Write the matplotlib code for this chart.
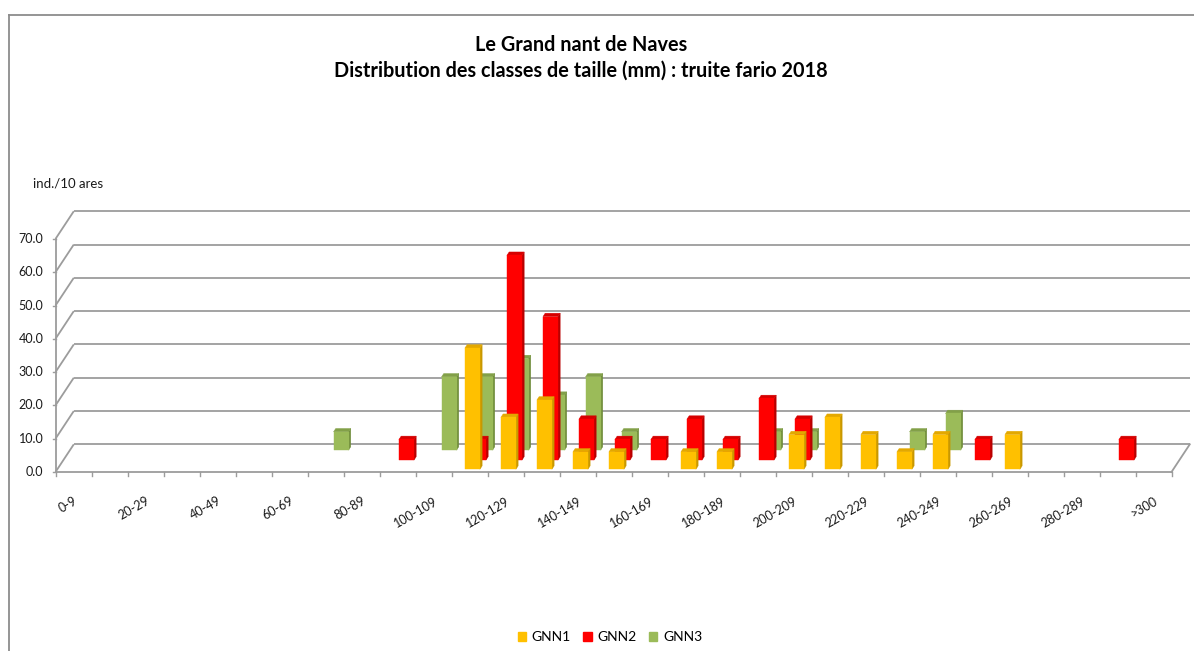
# Distribution des classes de taille - truite fario 2018 (pseudo 3D Excel)

import matplotlib
matplotlib.use("Agg")
import matplotlib.pyplot as plt
from matplotlib.patches import Polygon, Patch
from matplotlib.lines import Line2D

plt.rcParams["font.family"] = ["Lato", "DejaVu Sans"]

# Classes de taille (mm)
classes = ["%d-%d" % (10 * i, 10 * i + 9) for i in range(30)] + [">300"]

# ind./10 ares
gnn1 = [0, 0, 0, 0, 0, 0, 0, 0, 0, 0, 0, 36.4, 15.6, 20.8, 5.2, 5.2,
        0, 5.2, 5.2, 0, 10.4, 15.6, 10.4, 5.2, 10.4, 0, 10.4, 0, 0, 0, 0]
gnn2 = [0, 0, 0, 0, 0, 0, 0, 0, 0, 6.2, 0, 6.2, 61.5, 43.1, 12.3, 6.2,
        6.2, 12.3, 6.2, 18.5, 12.3, 0, 0, 0, 0, 6.2, 0, 0, 0, 6.2, 0]
gnn3 = [0, 0, 0, 0, 0, 0, 0, 5.5, 0, 0, 22.0, 22.0, 27.5, 16.5, 22.0, 5.5,
        0, 0, 0, 5.5, 5.5, 0, 0, 5.5, 11.0, 0, 0, 0, 0, 0, 0]
series = ["GNN1", "GNN2", "GNN3"]
yticks = [0, 10, 20, 30, 40, 50, 60, 70]

# Couleurs (face, dessus, cote)
cols = {
    "GNN1": ("#FFC000", "#E3A800", "#C99800"),
    "GNN2": ("#FF0000", "#D60000", "#B80000"),
    "GNN3": ("#9BBB59", "#82A048", "#6F8C3A"),
}

W, H, DPI = 1194, 651, 100
PX_CAT = 36.0      # pixels par classe
PX_VAL = 3.33      # pixels par unite
X0, Y0 = 55.5, 651 - 472   # origine (coin avant gauche)
DX = 18.3 / PX_CAT  # profondeur
DY = 27.7 / PX_VAL
NC = len(classes)
GRID = "#9c9c9c"
TXT = "#1a1a1a"

fig = plt.figure(figsize=(W / DPI, H / DPI), dpi=DPI)
ax = fig.add_axes([0, 0, 1, 1])
ax.set_xlim(-X0 / PX_CAT, (W - X0) / PX_CAT)
ax.set_ylim(-Y0 / PX_VAL, (H - Y0) / PX_VAL)
ax.axis("off")


def P(x, v, z):
    return (x + z * DX, v + z * DY)


# murs + grille
for v in yticks:
    bx, by = P(0, v, 1)
    ax.plot([0, bx], [v, by], color=GRID, lw=1.3, zorder=1, solid_capstyle="butt")
    ax.plot([bx, NC + DX], [by, by], color=GRID, lw=1.3, zorder=1, solid_capstyle="butt")
    ax.plot([-3 / PX_CAT, 0], [v, v], color=GRID, lw=1.0, zorder=1)
    ax.annotate("%.1f" % v, (0, v), xytext=(-12, 0), textcoords="offset pixels",
                ha="right", va="center", fontsize=9, color=TXT)
ax.plot([0, 0], [0, 70], color=GRID, lw=1.3, zorder=1)
ax.plot([0, NC], [0, 0], color=GRID, lw=1.3, zorder=1)
ax.plot([NC, NC + DX], [0, DY], color=GRID, lw=1.3, zorder=1)
for i in range(NC + 1):
    ax.plot([i, i], [0, -4 / PX_VAL], color=GRID, lw=1.0, zorder=1)
for i in range(0, NC, 2):
    ax.annotate(classes[i], (i + 0.5, 0), xytext=(3, -28), textcoords="offset pixels",
                ha="right", va="center", rotation=30, rotation_mode="anchor",
                fontsize=9, color=TXT)

# barres (arriere vers avant)
depth = {"GNN1": 0.10, "GNN2": 0.43, "GNN3": 0.79}
data = {"GNN1": gnn1, "GNN2": gnn2, "GNN3": gnn3}
w = 15 / PX_CAT
dz = 0.12
for k, name in enumerate(["GNN3", "GNN2", "GNN1"]):
    face, top, side = cols[name]
    z0 = depth[name]
    for c, v in enumerate(data[name]):
        if v <= 0:
            continue
        xa = c + 0.5 - w / 2 + dz / 2 * DX
        xb = xa + w
        fr = [P(xa, 0, z0), P(xb, 0, z0), P(xb, v, z0), P(xa, v, z0)]
        tp = [P(xa, v, z0), P(xb, v, z0), P(xb, v, z0 + dz), P(xa, v, z0 + dz)]
        sd = [P(xb, 0, z0), P(xb, 0, z0 + dz), P(xb, v, z0 + dz), P(xb, v, z0)]
        zo = 3 + k
        ax.add_patch(Polygon(sd, closed=True, fc=side, ec=side, lw=0.3, zorder=zo))
        ax.add_patch(Polygon(tp, closed=True, fc=top, ec=top, lw=0.3, zorder=zo))
        ax.add_patch(Polygon(fr, closed=True, fc=face, ec=face, lw=0.3, zorder=zo))

# textes
fig.text(581 / W, 1 - 45 / H, "Le Grand nant de Naves", ha="center", va="center",
         fontsize=14.3, fontweight="bold")
fig.text(581 / W, 1 - 71 / H, "Distribution des classes de taille (mm) : truite fario 2018",
         ha="center", va="center", fontsize=14.3, fontweight="bold")
fig.text(33 / W, 1 - 183 / H, "ind./10 ares", ha="left", va="center", fontsize=9.5,
         color=TXT)

handles = [Patch(color=cols[s][0], label=s) for s in series]
fig.legend(handles=handles, loc="center", bbox_to_anchor=(610 / W, 1 - 637 / H),
           ncol=3, frameon=False, fontsize=10, handlelength=0.6, handleheight=0.6,
           handletextpad=0.4, columnspacing=0.9)

# cadre
fig.add_artist(Line2D([9 / W, 9 / W], [0, 1 - 15 / H], color="#8c8c8c", lw=1.3))
fig.add_artist(Line2D([9 / W, 1], [1 - 15 / H, 1 - 15 / H], color="#8c8c8c", lw=1.3))

fig.savefig("out.png", dpi=DPI)
